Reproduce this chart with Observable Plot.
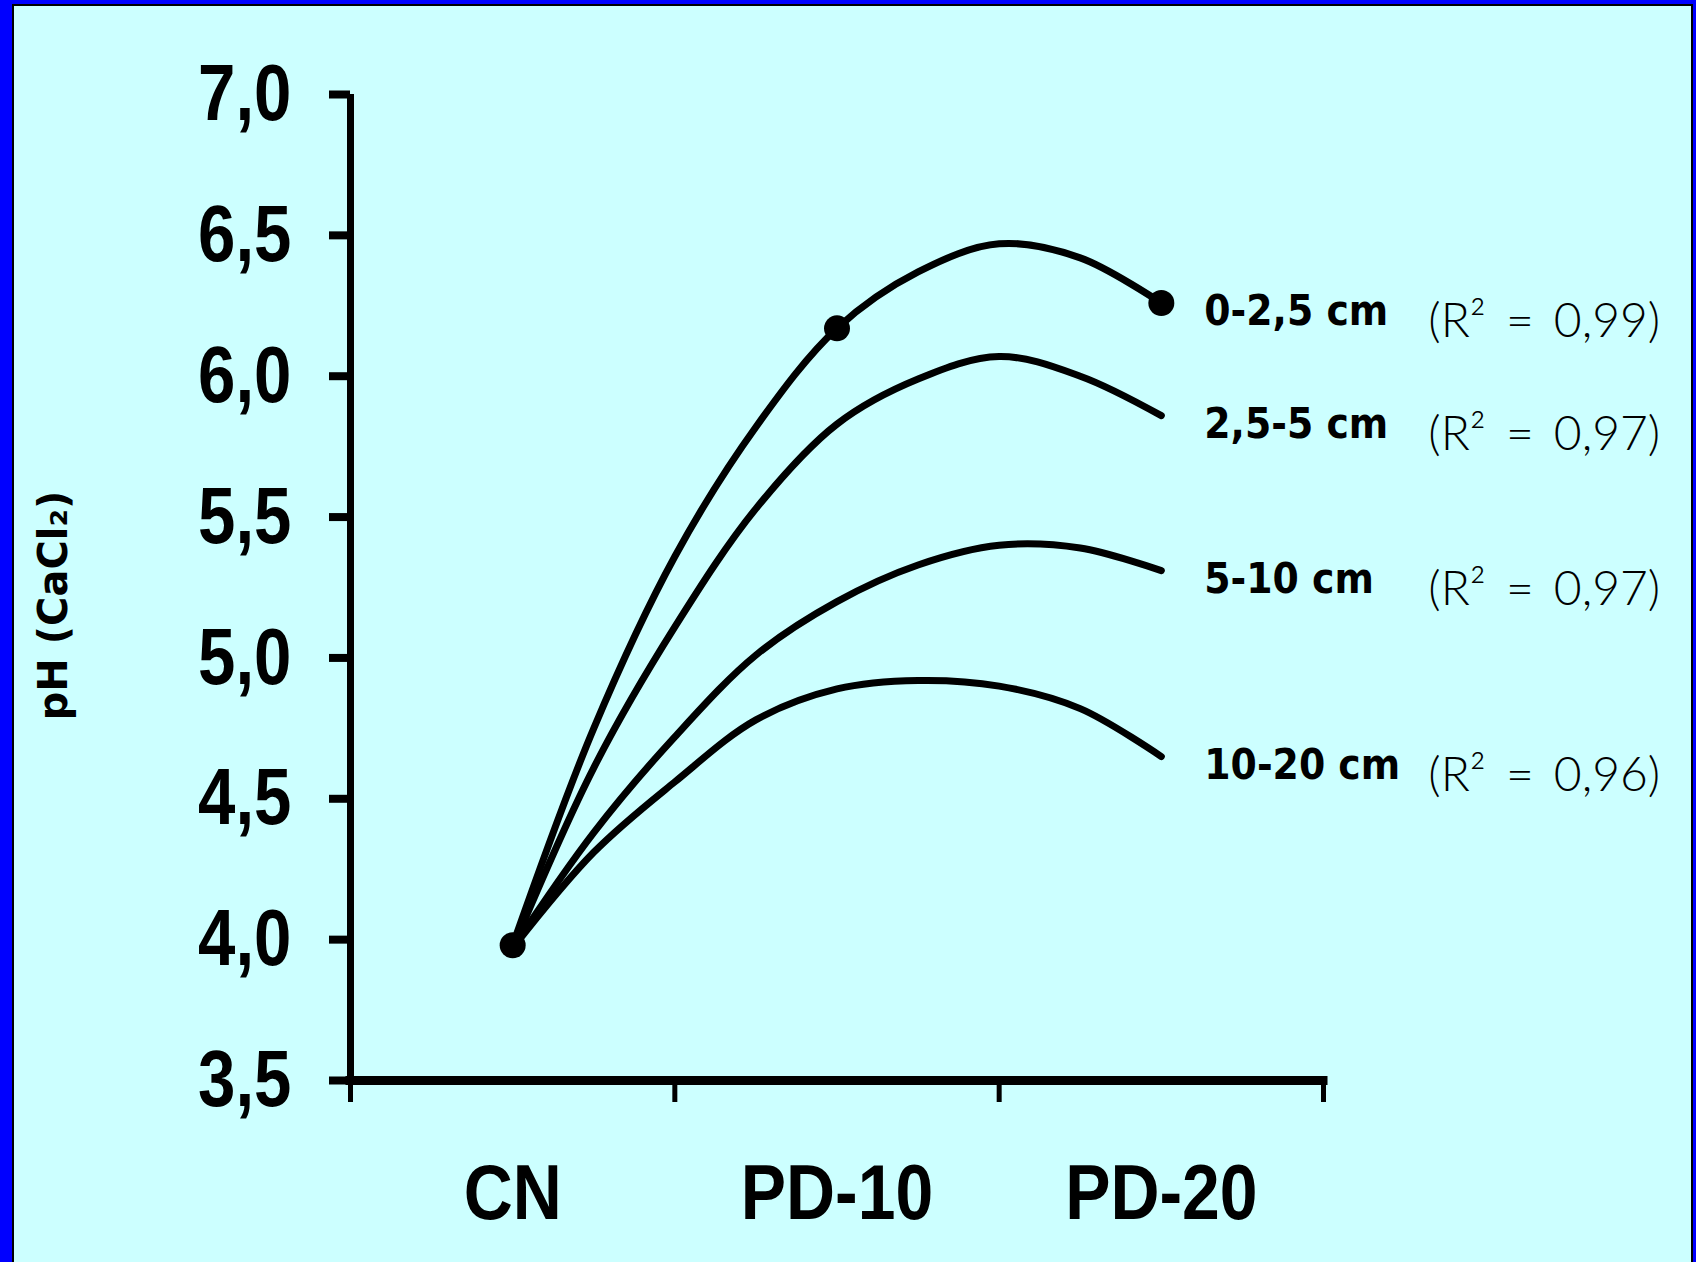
<!DOCTYPE html>
<html><head><meta charset="utf-8">
<script src="https://cdn.jsdelivr.net/npm/d3@7"></script>
<script src="https://cdn.jsdelivr.net/npm/@observablehq/plot@0.6"></script>
<style>
html,body{margin:0;padding:0;width:1696px;height:1262px;overflow:hidden;background:#0000ff;}
#panel{position:absolute;left:12px;top:4px;width:1677px;height:1270px;border:2px solid #000;background:#ccffff;}
#chart{position:absolute;left:0;top:0;}
g[font-family^="Lato"] text{word-spacing:7px;}
</style></head><body>
<div id="panel"></div>
<div id="chart"></div>
<script>
// Categories (treatments) and sampled positions along the fitted curves (in category units)
const categories = ["CN", "PD-10", "PD-20"];
const positions = [0, 0.25, 0.5, 0.75, 1, 1.25, 1.5, 1.75, 2];
const depths = ["0-2,5 cm", "2,5-5 cm", "5-10 cm", "10-20 cm"];
const r2Labels = ["(R² = 0,99)", "(R² = 0,97)", "(R² = 0,97)", "(R² = 0,96)"];
// pH values
const ph_0_25 = [3.98, 4.75, 5.36, 5.82, 6.17, 6.37, 6.47, 6.42, 6.26];
const ph_25_5 = [3.97, 4.61, 5.11, 5.53, 5.83, 5.99, 6.07, 6.00, 5.86];
const ph_5_10 = [3.97, 4.38, 4.72, 5.01, 5.20, 5.33, 5.40, 5.39, 5.31];
const ph_10_20 = [3.97, 4.31, 4.56, 4.78, 4.89, 4.92, 4.90, 4.82, 4.65];
const yTicks = [3.5, 4.0, 4.5, 5.0, 5.5, 6.0, 6.5, 7.0];
const xBounds = [-0.5, 0.5, 1.5, 2.5];
const yTitle = "pH (CaCl₂)";

const seriesValues = [ph_0_25, ph_25_5, ph_5_10, ph_10_20];
const series = [];
seriesValues.forEach((vals, i) => vals.forEach((v, j) => series.push({depth: depths[i], t: positions[j], v})));
const ends = seriesValues.map((vals, i) => ({depth: depths[i], r2: r2Labels[i], t: positions[positions.length - 1], v: vals[vals.length - 1]}));
const measured = series.filter(d => d.depth === depths[0] && Number.isInteger(d.t));

const fmt = d => d.toFixed(1).replace(".", ",");
const narrow = "Liberation Sans Narrow, Arial Narrow, Liberation Sans, Arial, sans-serif";

const chart = Plot.plot({
  width: 1696,
  height: 1262,
  marginLeft: 350,
  marginRight: 373,
  marginTop: 94,
  marginBottom: 182,
  style: {background: "transparent", overflow: "visible", color: "#000"},
  x: {domain: [-0.5, 2.5]},
  y: {domain: [3.5, 7.0]},
  marks: [
    Plot.ruleX([-0.5], {y1: 3.5, y2: 7.0, stroke: "#000", strokeWidth: 7}),
    Plot.ruleY([3.5], {x1: -0.5, x2: 2.5, stroke: "#000", strokeWidth: 9, strokeLinecap: "square"}),
    Plot.axisY({ticks: yTicks, tickFormat: fmt, tickSize: 21, tickPadding: 38, strokeWidth: 8,
      fontSize: 80, fontWeight: "bold", fontFamily: narrow, label: null}),
    Plot.axisX({ticks: xBounds, tickFormat: () => "", tickSize: 22, strokeWidth: 5, label: null}),
    Plot.axisX({ticks: [0, 1, 2], tickFormat: i => categories[i], tickSize: 0, tickPadding: 83,
      fontSize: 78, fontWeight: "bold", fontFamily: narrow, label: null}),
    Plot.text([yTitle], {frameAnchor: "left", textAnchor: "middle", rotate: -90, dx: -296, dy: 18, fontSize: 40,
      fontWeight: "bold", fontFamily: "DejaVu Sans, Verdana, sans-serif", fill: "#000"}),
    Plot.line(series, {x: "t", y: "v", z: "depth", curve: "catmull-rom", stroke: "#000",
      strokeWidth: 7, strokeLinejoin: "round"}),
    Plot.dot(measured, {x: "t", y: "v", r: 13, fill: "#000"}),
    Plot.text(ends, {x: "t", y: "v", text: "depth", dx: 43, dy: 9, textAnchor: "start",
      fontSize: 42, fontWeight: "bold", fontFamily: "DejaVu Sans Condensed, DejaVu Sans, sans-serif", fill: "#000"}),
    Plot.text(ends, {x: "t", y: "v", text: "r2", dx: 267, dy: 19, textAnchor: "start",
      fontSize: 48, fontWeight: 300, fontFamily: "Lato, Open Sans, sans-serif", fill: "#000"})
  ]
});
document.getElementById("chart").appendChild(chart);

// Narrow the Arial-style tick labels (the reference uses a condensed bold face)
function condense(selector, s, anchor) {
  d3.select(chart).selectAll(selector).each(function() {
    const b = this.getBBox();
    const ax = anchor === "end" ? b.x + b.width : b.x + b.width / 2;
    const t = this.getAttribute("transform") || "";
    this.setAttribute("transform", `${t} translate(${ax},0) scale(${s},1) translate(${-ax},0)`);
  });
}
condense('g[aria-label="y-axis tick label"] text', 0.84, "end");
condense('g[aria-label="x-axis tick label"] text', 0.87, "middle");
</script>
</body></html>
